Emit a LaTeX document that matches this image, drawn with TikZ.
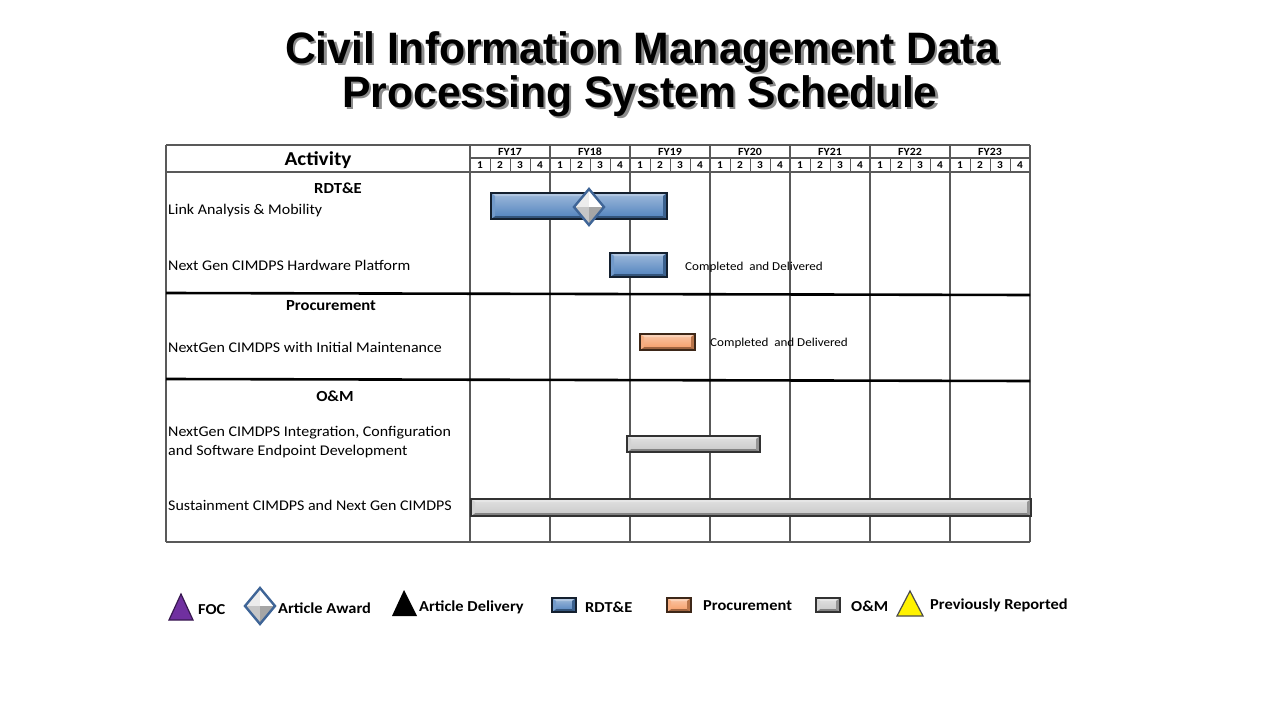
\documentclass[tikz,border=0pt]{standalone}
\usepackage{fontspec}
\setmainfont[FakeStretch=1.08]{Carlito}
\newfontfamily\titlefont[FakeStretch=0.97]{Liberation Sans}
\definecolor{rdblue}{HTML}{4F81BD}
\definecolor{procor}{HTML}{F59A62}
\definecolor{omgray}{HTML}{C8C8C8}
\definecolor{dblue}{HTML}{3F6597}
\definecolor{focpurple}{HTML}{7030A0}
\newcommand{\gbar}[5]{%
  \shade[top color=#5!55!white, bottom color=#5] (#1,#2) rectangle (#3,#4);
  \fill[#5!45!white] (#1,#2) -- (#3,#2) -- ({#3-4},{#2+3}) -- ({#1+4},{#2+3}) -- cycle;
  \fill[#5!65!black] (#1,#4) -- (#3,#4) -- ({#3-4},{#4-3}) -- ({#1+4},{#4-3}) -- cycle;
  \fill[#5!75!black] (#3,#2) -- (#3,#4) -- ({#3-4},{#4-3}) -- ({#3-4},{#2+3}) -- cycle;
  \fill[#5!80!white] (#1,#2) -- (#1,#4) -- ({#1+4},{#4-3}) -- ({#1+4},{#2+3}) -- cycle;
  \draw[line width=1.6pt, #5!25!black] (#1,#2) rectangle (#3,#4);}
\newcommand{\awardd}[4]{%
  \fill[gray!15] (#1,#2) -- ({#1-#3},#2) -- (#1,{#2-#4}) -- cycle;
  \fill[white] (#1,#2) -- ({#1+#3},#2) -- (#1,{#2-#4}) -- cycle;
  \fill[gray!45] (#1,#2) -- ({#1-#3},#2) -- (#1,{#2+#4}) -- cycle;
  \fill[gray!70] (#1,#2) -- ({#1+#3},#2) -- (#1,{#2+#4}) -- cycle;
  \draw[line width=2.4pt, dblue, line join=miter] ({#1-#3},#2) -- (#1,{#2-#4}) -- ({#1+#3},#2) -- (#1,{#2+#4}) -- cycle;}
\tikzset{
  grid/.style={line width=1.2pt, black!65},
  sect/.style={line width=2.6pt, black},
  lbl/.style={font=\fontsize{14.8}{17}\selectfont, anchor=west, inner sep=0pt},
  sechead/.style={font=\bfseries\fontsize{15.4}{17}\selectfont, inner sep=0pt},
  fy/.style={font=\bfseries\fontsize{11}{12}\selectfont, inner sep=0pt},
  qn/.style={font=\bfseries\fontsize{10.5}{11}\selectfont, inner sep=0pt},
  note/.style={font=\fontsize{12.1}{13}\selectfont, anchor=west, inner sep=0pt},
  leg/.style={font=\bfseries\fontsize{15.2}{17}\selectfont, anchor=west, inner sep=0pt},
  ttl/.style={font=\titlefont\bfseries\fontsize{44}{46}\selectfont, anchor=base, inner sep=0pt}
}
\begin{document}
\begin{tikzpicture}[x=1pt,y=-1pt]
\useasboundingbox (0,0) rectangle (1280,720);
\fill[white] (0,0) rectangle (1280,720);
% title with shadow
\node[ttl, text=black!45] at (644.5,65.5) {Civil Information Management Data};
\node[ttl, text=black!45] at (642.5,109.5) {Processing System Schedule};
\node[ttl] (t1) at (642,63) {Civil Information Management Data};
\node[ttl] (t2) at (640,107) {Processing System Schedule};
% table frame
\draw[grid] (166,145) -- (1030,145);
\draw[grid] (166,145) -- (166,542);
\draw[grid] (166,542) -- (1030,542);
\draw[grid] (166,172) -- (1030,172);
\draw[grid] (470,158) -- (1030,158);
\foreach \i in {0,...,7} { \draw[grid] ({470+80*\i},145) -- ({470+80*\i},542); }
\foreach \k in {1,...,27} { \draw[line width=0.9pt, black!65] ({470+20*\k},158) -- ({470+20*\k},172); }
\foreach \y [count=\i from 0] in {17,...,23} {
  \node[fy] (fy\y) at ({510+80*\i},151.5) {FY\y};
  \foreach \q in {1,...,4} { \node[qn] at ({470+80*\i+20*\q-10},165.5) {\q}; }
}
\draw[sect] (166,293) -- (1030,295);
\draw[sect] (166,379) -- (1030,381);
% left labels
\node[font=\bfseries\fontsize{19.7}{21}\selectfont, inner sep=0pt] (act) at (318,160) {Activity};
\node[sechead] (rdte) at (338,188) {RDT\&E};
\node[lbl] (l1) at (168,211) {Link Analysis \& Mobility};
\node[lbl] (l2) at (168,265) {Next Gen CIMDPS Hardware Platform};
\node[sechead] (proc) at (331,306) {Procurement};
\node[lbl] (l3) at (168,347) {NextGen CIMDPS with Initial Maintenance};
\node[sechead] (om) at (335,396) {O\&M};
\node[lbl, align=left, font=\fontsize{14.8}{19}\selectfont] (l4) at (168,442) {NextGen CIMDPS Integration, Configuration\\and Software Endpoint Development};
\node[lbl] (l5) at (168,505) {Sustainment CIMDPS and Next Gen CIMDPS};
% bars
\gbar{491}{193}{667}{219}{rdblue}
\awardd{589}{207}{15}{18}
\gbar{610}{253}{667}{277}{rdblue}
\node[note] (n1) at (685,267) {Completed\ \ and Delivered};
\gbar{640}{334}{695}{350}{procor}
\node[note] (n2) at (710,343) {Completed\ \ and Delivered};
\gbar{627}{436}{760}{452}{omgray}
\gbar{471}{499}{1031}{516}{omgray}
% legend
\fill[focpurple, draw=focpurple!50!black, line width=1.2pt] (169,620) -- (193,620) -- (181,594) -- cycle;
\node[leg] (lg1) at (198,610) {FOC};
\awardd{260}{606}{15}{18}
\node[leg] (lg2) at (278,608) {Article Award};
\fill[black] (392,616) -- (417,616) -- (404,590) -- cycle;
\node[leg] (lg3) at (419,607) {Article Delivery};
\gbar{552}{598}{576}{612}{rdblue}
\node[leg] (lg4) at (585,607) {RDT\&E};
\gbar{667}{598}{691}{612}{procor}
\node[leg] (lg5) at (703,606) {Procurement};
\gbar{816}{598}{840}{612}{omgray}
\node[leg] (lg6) at (851,606) {O\&M};
\filldraw[fill=yellow, draw=black!70, line width=1.2pt] (897,616) -- (923,616) -- (910,591) -- cycle;
\node[leg] (lg7) at (930,605) {Previously Reported};
\end{tikzpicture}
\end{document}
